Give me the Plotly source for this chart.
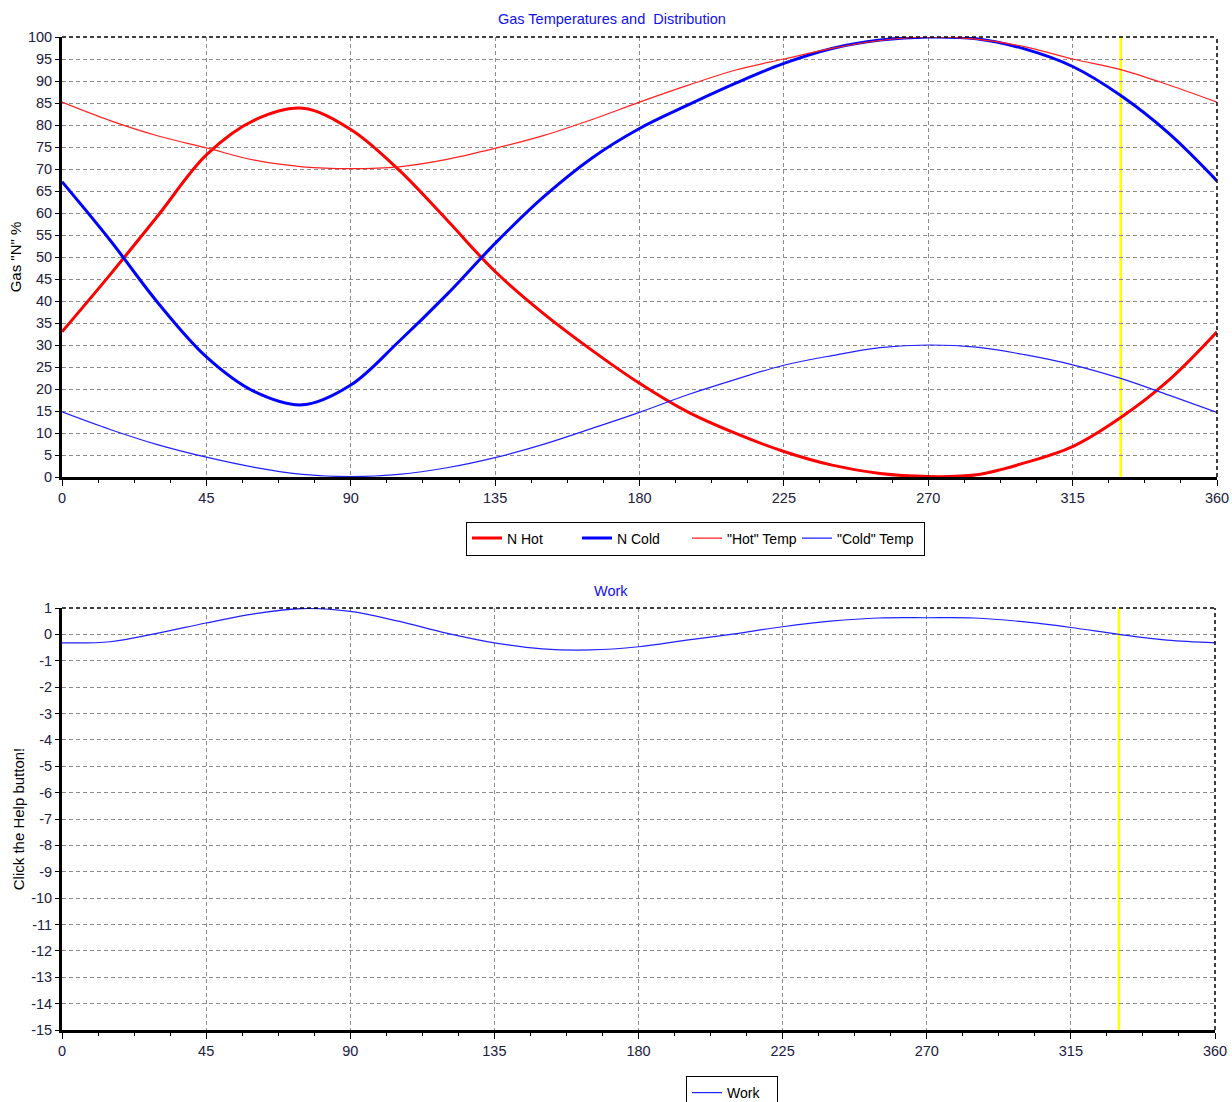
import plotly.graph_objects as go

# ---------------- data ----------------
ANGLE = [0, 15, 30, 45, 60, 75, 90, 105, 120, 135, 150, 165, 180,
         195, 210, 225, 240, 255, 270, 285, 300, 315, 330, 345, 360]

N_HOT = [33.0, 46.0, 59.5, 73.2, 81.1, 83.8, 79.0, 69.8, 58.4, 46.7, 37.2, 28.9, 21.3,
         14.8, 9.9, 5.8, 2.7, 0.8, 0.1, 0.5, 3.2, 6.9, 13.5, 22.0, 33.0]

N_COLD = [67.1, 53.8, 39.5, 27.3, 19.4, 16.4, 20.9, 30.8, 41.5, 53.1, 63.6, 72.4, 79.2,
          84.5, 89.5, 94.0, 97.4, 99.3, 100.0, 99.6, 97.3, 93.3, 86.7, 78.1, 67.3]

HOT_TEMP = [85.2, 81.0, 77.5, 74.8, 72.0, 70.5, 70.1, 70.5, 72.2, 74.7, 77.6, 81.2, 85.2,
            89.0, 92.5, 95.0, 97.4, 99.2, 100.0, 99.5, 97.8, 95.0, 92.6, 89.1, 85.2]

COLD_TEMP = [14.8, 10.8, 7.3, 4.5, 2.2, 0.6, 0.1, 0.6, 2.1, 4.4, 7.4, 11.0, 14.7,
             18.7, 22.2, 25.4, 27.6, 29.4, 30.0, 29.5, 27.8, 25.5, 22.4, 18.6, 14.7]

WORK = [-0.32, -0.28, 0.05, 0.43, 0.78, 0.98, 0.87, 0.50, 0.05, -0.32, -0.55, -0.59, -0.47,
        -0.22, 0.02, 0.29, 0.50, 0.62, 0.63, 0.62, 0.48, 0.26, 0.00, -0.22, -0.32]

CURSOR_ANGLE = 330

X_TICKS = [0, 45, 90, 135, 180, 225, 270, 315, 360]
Y1_TICKS = list(range(0, 101, 5))
Y2_TICKS = list(range(-15, 2, 1))

TITLE_TOP = "Gas Temperatures and\u00a0 Distribution"
TITLE_BOTTOM = "Work"
YTITLE_TOP = 'Gas "N" %'
YTITLE_BOTTOM = "Click the Help button!"

# ---------------- figure ----------------
W, H = 1232, 1102
FONT = "Arial, Liberation Sans, sans-serif"
TICK_COLOR = "#202040"
GRID = "#8c8c8c"
TXT = 14.5

def px_x(p):
    return p / W

def px_y(p):
    return 1 - p / H

fig = go.Figure()

fig.add_trace(go.Scatter(x=ANGLE, y=N_HOT, name="N Hot", mode="lines",
                         line=dict(color="#ff0000", width=3, shape="spline", smoothing=1),
                         xaxis="x", yaxis="y", legend="legend"))
fig.add_trace(go.Scatter(x=ANGLE, y=N_COLD, name="N Cold", mode="lines",
                         line=dict(color="#0000ff", width=3, shape="spline", smoothing=1),
                         xaxis="x", yaxis="y", legend="legend"))
fig.add_trace(go.Scatter(x=ANGLE, y=HOT_TEMP, name='"Hot" Temp', mode="lines",
                         line=dict(color="#ff2020", width=1.2, shape="spline", smoothing=1),
                         xaxis="x", yaxis="y", legend="legend"))
fig.add_trace(go.Scatter(x=ANGLE, y=COLD_TEMP, name='"Cold" Temp', mode="lines",
                         line=dict(color="#2020ff", width=1.2, shape="spline", smoothing=1),
                         xaxis="x", yaxis="y", legend="legend", legendwidth=82))
fig.add_trace(go.Scatter(x=ANGLE, y=WORK, name="Work", mode="lines",
                         line=dict(color="#2020ff", width=1.2, shape="spline", smoothing=1),
                         xaxis="x2", yaxis="y2", legend="legend2"))

xcommon = dict(range=[0, 360], tickvals=X_TICKS, ticks="outside", ticklen=6,
               tickcolor="black", tickwidth=1, showline=True, linecolor="black",
               linewidth=3, showgrid=True, gridcolor=GRID, griddash="4px,3px",
               gridwidth=1, zeroline=False, fixedrange=True, automargin=False,
               tickfont=dict(family=FONT, size=14.5, color=TICK_COLOR),
               minor=dict(dtick=11.25, tick0=0, ticks="outside", ticklen=3,
                          tickcolor="black", showgrid=False))
ycommon = dict(ticks="outside", ticklen=4, tickcolor="black", showline=True,
               linecolor="black", linewidth=3, showgrid=True, gridcolor=GRID,
               griddash="4px,3px", gridwidth=1, zeroline=False, fixedrange=True,
               automargin=False,
               tickfont=dict(family=FONT, size=14.5, color=TICK_COLOR))

fig.update_layout(
    width=W, height=H, autosize=False,
    margin=dict(l=0, r=0, t=0, b=0, autoexpand=False),
    paper_bgcolor="white", plot_bgcolor="white",
    font=dict(family=FONT, size=TXT, color="black"),
    xaxis=dict(domain=[px_x(62), px_x(1217)], anchor="y", **xcommon),
    yaxis=dict(domain=[px_y(477), px_y(37)], anchor="x", range=[0, 100],
               tickvals=Y1_TICKS,
               title=dict(text=YTITLE_TOP, standoff=3,
                          font=dict(family=FONT, size=15, color="black")),
               **ycommon),
    xaxis2=dict(domain=[px_x(62), px_x(1215)], anchor="y2", **xcommon),
    yaxis2=dict(domain=[px_y(1030), px_y(608)], anchor="x2", range=[-15, 1],
                tickvals=Y2_TICKS, ticktext=[str(v) for v in Y2_TICKS],
                title=dict(text=YTITLE_BOTTOM, standoff=3,
                           font=dict(family=FONT, size=15, color="black")),
                **ycommon),
    legend=dict(orientation="h", x=px_x(466), y=px_y(538.5), xanchor="left", yanchor="middle",
                bordercolor="black", borderwidth=1, bgcolor="white",
                font=dict(family=FONT, size=14, color="black"),
                itemwidth=30, entrywidth=65, entrywidthmode="pixels",
                tracegroupgap=0, valign="middle"),
    legend2=dict(orientation="h", x=px_x(686), y=px_y(1076), xanchor="left", yanchor="top",
                 bordercolor="black", borderwidth=1, bgcolor="white",
                 font=dict(family=FONT, size=14, color="black"),
                 itemwidth=30, entrywidth=45, entrywidthmode="pixels",
                 tracegroupgap=0, valign="middle"),
    showlegend=True,
)

# chart titles
fig.add_annotation(text=TITLE_TOP, xref="paper", yref="paper", x=px_x(612), y=px_y(19),
                   showarrow=False, xanchor="center", yanchor="middle",
                   font=dict(family=FONT, size=TXT, color="#1010ee"))
fig.add_annotation(text=TITLE_BOTTOM, xref="paper", yref="paper", x=px_x(611), y=px_y(591),
                   showarrow=False, xanchor="center", yanchor="middle",
                   font=dict(family=FONT, size=TXT, color="#1010ee"))

# dashed top / right borders
for xr, yr in (("x domain", "y domain"), ("x2 domain", "y2 domain")):
    fig.add_shape(type="line", xref=xr, yref=yr, x0=0, x1=1, y0=1, y1=1,
                  line=dict(color="black", width=1.5, dash="4px,3px"), layer="above")
    fig.add_shape(type="line", xref=xr, yref=yr, x0=1, x1=1, y0=0, y1=1,
                  line=dict(color="black", width=1.5, dash="4px,3px"), layer="above")

# yellow cursor lines (drawn under the curves)
for xr, yr in (("x", "y domain"), ("x2", "y2 domain")):
    fig.add_shape(type="line", xref=xr, yref=yr, x0=CURSOR_ANGLE, x1=CURSOR_ANGLE,
                  y0=0, y1=1, line=dict(color="#ffff00", width=2.5), layer="below")

fig.write_html(
    "out.html",
    config={"displayModeBar": False, "responsive": False},
    post_script="document.body.style.margin='0';document.body.style.padding='0';",
)
